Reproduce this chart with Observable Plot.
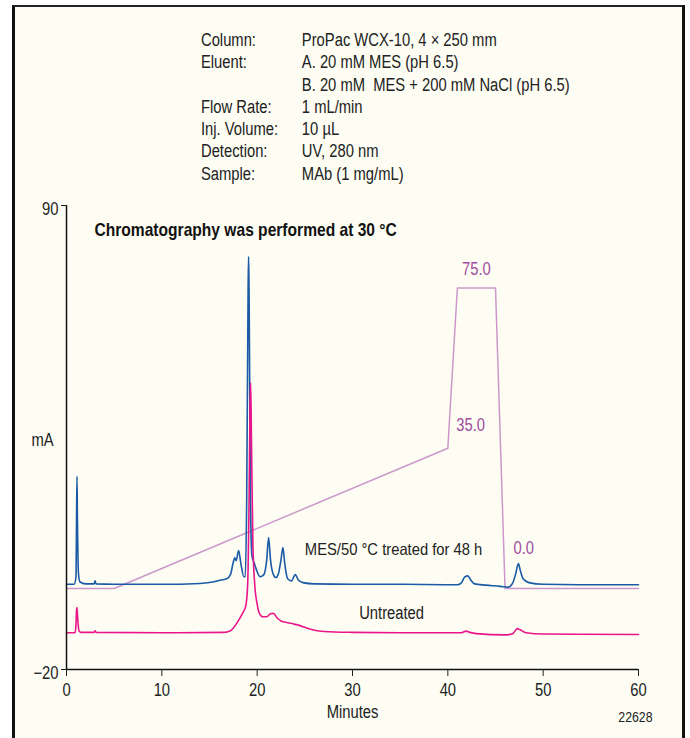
<!DOCTYPE html>
<html>
<head>
<meta charset="utf-8">
<script src="https://cdn.jsdelivr.net/npm/d3@7"></script>
<script src="https://cdn.jsdelivr.net/npm/@observablehq/plot@0.6"></script>
<style>
  html, body { margin: 0; padding: 0; background: #ffffff; }
  #wrap { position: relative; width: 690px; height: 738px; overflow: hidden;
    font-family: "Liberation Sans", Arial, sans-serif; color: #222; }
  #frame { position: absolute; left: 12px; top: 5px; width: 667px; height: 740px;
    background: #fdfdf3; border-left: 3px solid #111; border-right: 3px solid #111; border-top: 2px solid #222; }
  #header { position: absolute; left: 201px; top: 29px; font-size: 18px; line-height: 22.3px;
    transform: scaleX(0.82); transform-origin: 0 0; white-space: nowrap; }
  #header .row { display: flex; }
  #header .k { width: 123px; }
  #chart { position: absolute; left: 0; top: 0; }
</style>
</head>
<body>
<div id="wrap">
  <div id="frame"></div>
  <div id="header"></div>
  <div id="chart"></div>
</div>
<script>
// ---- Data ----
const headerKeys = ["Column:", "Eluent:", "", "Flow Rate:", "Inj. Volume:", "Detection:", "Sample:"];
const headerValues = ["ProPac WCX-10, 4 \u00d7 250 mm", "A. 20 mM MES (pH 6.5)", "B. 20 mM\u00a0 MES + 200 mM NaCl (pH 6.5)",
  "1 mL/min", "10 \u00b5L", "UV, 280 nm", "MAb (1 mg/mL)"];

const xTicks = [0, 10, 20, 30, 40, 50, 60];
const yTicks = [90, -20];

// MES/50 °C treated for 48 h (minutes, mA)
const treatedTrace = [
  [0, 0.2], [0.8, 0.2], [1.0, 2], [1.05, 15], [1.1, 25.8], [1.15, 15], [1.25, 3], [1.4, 0.8],
  [2.0, 0.3], [2.9, 0.3], [3.0, 1.0], [3.1, 0.3], [5, 0.2], [10, 0.2], [14, 0.4], [15.5, 0.8],
  [16.2, 1.2], [16.8, 1.5], [17.2, 2.5], [17.5, 5.5], [17.65, 6.5], [17.8, 5.8], [18.05, 8.2],
  [18.3, 5], [18.6, 2], [18.75, 2], [18.9, 20], [19.05, 70], [19.1, 77.9], [19.15, 70], [19.3, 20],
  [19.45, 7], [19.7, 5.2], [19.9, 3.8], [20.3, 2], [20.7, 2.5], [21.0, 6], [21.2, 11.3], [21.4, 6],
  [21.7, 2.5], [21.95, 1.8], [22.2, 2.5], [22.5, 6], [22.7, 8.9], [22.9, 5], [23.2, 1.5], [23.6, 1.0],
  [24.0, 2.5], [24.3, 1.3], [24.8, 0.6], [26, 0.3], [30, 0.2], [35, 0.2], [40, 0.1], [41.0, 0.1],
  [41.4, 0.5], [41.8, 2.0], [42.1, 2.2], [42.4, 1.2], [42.8, 0.3], [44, 0.0], [45.5, -0.3], [46.3, -0.5],
  [46.8, 0.5], [47.1, 2.5], [47.4, 5.1], [47.6, 3.5], [47.9, 1.5], [48.5, 0.6], [50, 0.2], [55, 0.1], [60, 0.1]
];

// Untreated (minutes, mA)
const untreatedTrace = [
  [0, -11.3], [0.9, -11.3], [1.0, -9], [1.05, -6], [1.1, -5.3], [1.15, -7], [1.3, -10.8], [1.5, -11.2],
  [2.9, -11.2], [3.0, -10.8], [3.1, -11.2], [10, -11.3], [16.5, -11.2], [17.2, -10.8], [17.9, -8.9],
  [18.5, -6.5], [18.8, -5], [19.0, 0], [19.15, 20], [19.25, 42], [19.32, 48], [19.4, 35], [19.55, 10],
  [19.75, 0], [20.0, -4.5], [20.2, -6.5], [20.6, -7.5], [21.0, -7.5], [21.4, -6.8], [21.7, -6.7],
  [22.1, -7.8], [22.5, -8.5], [23.2, -8.9], [23.8, -9.2], [24.5, -9.6], [25.5, -10.4], [27, -11],
  [30, -11.2], [35, -11.3], [40, -11.3], [41.4, -11.3], [41.9, -10.9], [42.3, -11.2], [43, -11.5],
  [46, -11.8], [46.8, -11.5], [47.3, -10.3], [47.6, -10.6], [48.2, -11.3], [50, -11.6], [60, -11.7]
];

// Gradient (%B) and its labels
const gradientTime = [0, 5, 40, 41, 45, 46, 60];
const gradientB = [0, 0, 35, 75, 75, 0, 0];
const gradLabels = ["75.0", "35.0", "0.0"];
const gradLabelTime = [43, 42.4, 47.75];
const gradLabelB = [75, 35, 0];

const traceLabels = ["MES/50 \u00b0C treated for 48 h", "Untreated"];
const traceLabelTime = [25, 34.1];
const traceLabelValue = [8.4, -6.7];

const titleText = "Chromatography was performed at 30 \u00b0C";

// ---- Build ----
const header = document.getElementById("header");
headerKeys.forEach((k, i) => {
  const row = document.createElement("div");
  row.className = "row";
  row.innerHTML = `<span class="k">${k}</span><span>${headerValues[i]}</span>`;
  header.appendChild(row);
});

// gradient %B drawn on the mA axis as an overlay
const bToY = b => b * 0.95 - 0.8;
const gradient = gradientTime.map((t, i) => ({t, y: bToY(gradientB[i])}));
const gradLabelData = gradLabels.map((s, i) => ({s, t: gradLabelTime[i], y: bToY(gradLabelB[i])}));
const treated = treatedTrace.map(([t, v]) => ({t, v}));
const untreated = untreatedTrace.map(([t, v]) => ({t, v}));
const tLabels = traceLabels.map((s, i) => ({s, t: traceLabelTime[i], v: traceLabelValue[i]}));

const font = '"Liberation Sans", Arial, sans-serif';

const chart = Plot.plot({
  width: 690,
  height: 738,
  marginLeft: 66,
  marginRight: 52,
  marginTop: 205,
  marginBottom: 69,
  x: {domain: [0, 60]},
  y: {domain: [-20, 90]},
  style: {background: "transparent", fontFamily: font, fontSize: "18px", color: "#222", overflow: "visible"},
  marks: [
    Plot.line(gradient, {x: "t", y: "y", stroke: "#cc98cb", strokeWidth: 1.5}),
    Plot.line(treated, {x: "t", y: "v", stroke: "#1a5aa6", strokeWidth: 1.6, curve: "monotone-x"}),
    Plot.line(untreated, {x: "t", y: "v", stroke: "#e8168a", strokeWidth: 1.6, curve: "monotone-x"}),
    Plot.text(gradLabelData.slice(0, 1), {x: "t", y: "y", text: "s", dy: -19, fill: "#a04ca0", fontSize: 18}),
    Plot.text(gradLabelData.slice(1, 2), {x: "t", y: "y", text: "s", dy: -23, fill: "#a04ca0", fontSize: 18}),
    Plot.text(gradLabelData.slice(2, 3), {x: "t", y: "y", text: "s", dy: -40, dx: 2, fill: "#a04ca0", fontSize: 18}),
    Plot.text(tLabels.slice(0, 1), {x: "t", y: "v", text: "s", textAnchor: "start", fill: "#222", fontSize: 16.5}),
    Plot.text(tLabels.slice(1, 2), {x: "t", y: "v", text: "s", fill: "#222", fontSize: 18}),
    Plot.text([titleText], {frameAnchor: "top-left", dx: 28, dy: 17, textAnchor: "start", fontWeight: "bold", fontSize: 19, fill: "#111"}),
    Plot.ruleX([0], {stroke: "#111", strokeWidth: 1.5}),
    Plot.ruleY([-20], {stroke: "#111", strokeWidth: 1.5}),
    Plot.axisY({ticks: yTicks, tickSize: 5, tickFormat: () => "", label: null}),
    Plot.axisY({ticks: yTicks, tickSize: 0, tickPadding: 8, dy: 3.5, label: null, fontSize: 18}),
    Plot.axisX({ticks: xTicks, tickSize: 7, tickPadding: 7, label: null, fontSize: 18}),
    Plot.text(["Minutes"], {frameAnchor: "bottom", dy: 48, fontSize: 18}),
    Plot.text(["mA"], {frameAnchor: "left", dx: -24, dy: 3, textAnchor: "middle", fontSize: 18}),
    Plot.text(["22628"], {frameAnchor: "bottom-right", dx: 14, dy: 52, fontSize: 15})
  ]
});
document.getElementById("chart").appendChild(chart);

// condense all SVG text horizontally (Helvetica Condensed look)
chart.querySelectorAll("text").forEach(el => {
  const len = el.getComputedTextLength();
  if (len > 0) {
    const factor = el.textContent === traceLabels[0] ? 0.895 : 0.82;
    el.setAttribute("textLength", (len * factor).toFixed(2));
    el.setAttribute("lengthAdjust", "spacingAndGlyphs");
  }
});
</script>
</body>
</html>
